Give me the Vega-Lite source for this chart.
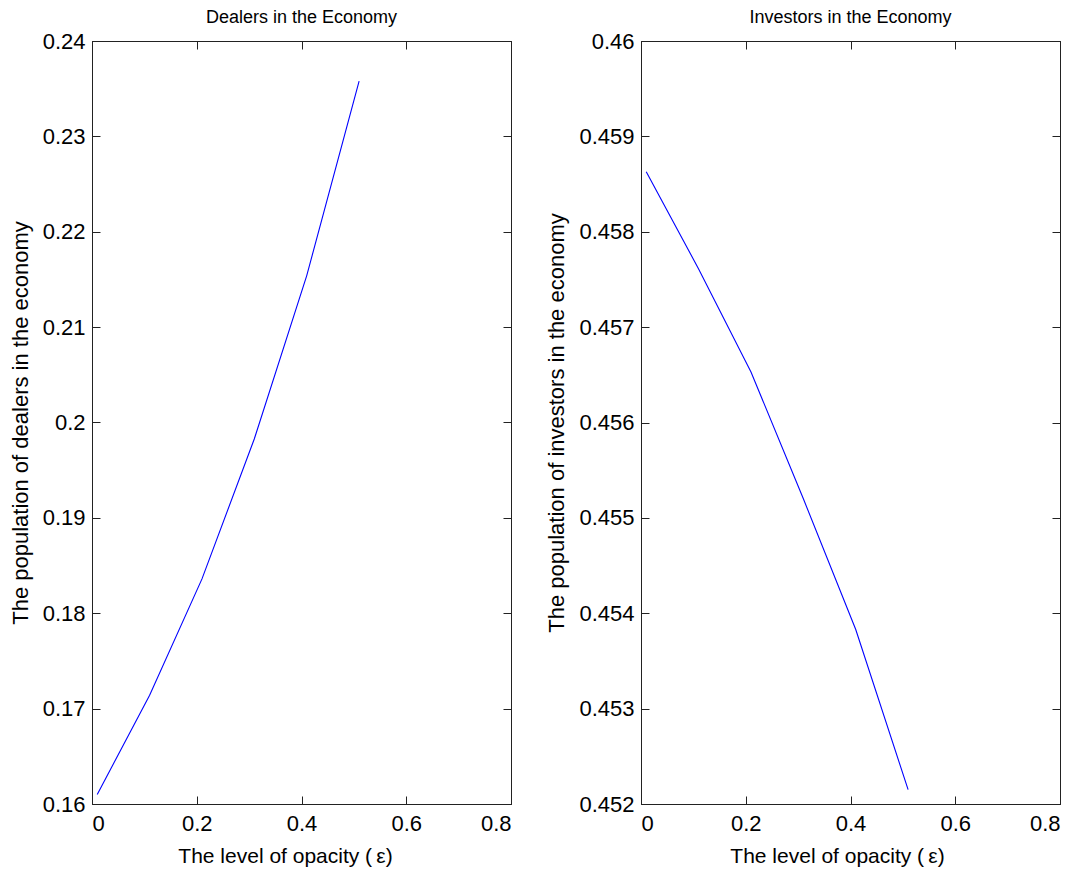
{
  "$schema": "https://vega.github.io/schema/vega-lite/v6.json",
  "padding": {"left": 8, "top": 8, "right": 0, "bottom": 0},
  "background": "white",
  "spacing": 33,
  "datasets": {
    "dealers": [
      {"opacity": 0.01, "population": 0.1610},
      {"opacity": 0.11, "population": 0.1714},
      {"opacity": 0.21, "population": 0.1836},
      {"opacity": 0.31, "population": 0.1983},
      {"opacity": 0.41, "population": 0.2154},
      {"opacity": 0.51, "population": 0.2358}
    ],
    "investors": [
      {"opacity": 0.01, "population": 0.45863},
      {"opacity": 0.11, "population": 0.45761},
      {"opacity": 0.21, "population": 0.45653},
      {"opacity": 0.31, "population": 0.45520},
      {"opacity": 0.41, "population": 0.45383},
      {"opacity": 0.51, "population": 0.45215}
    ]
  },
  "hconcat": [
    {
      "title": {"text": "Dealers in the Economy"},
      "width": 419,
      "height": 763,
      "data": {"name": "dealers"},
      "layer": [
        {
          "mark": {"type": "line", "color": "#0000ff", "strokeWidth": 1.1},
          "encoding": {
            "x": {"field": "opacity", "type": "quantitative", "scale": {"domain": [0, 0.8], "nice": false, "zero": false},
                  "axis": {"orient": "bottom", "values": [0, 0.2, 0.4, 0.6, 0.8], "format": "~g", "labelPadding": 17, "titlePadding": 11, "titleFontSize": 21, "titleX": 193, "title": "The level of opacity (\u2009ε)"}},
            "y": {"field": "population", "type": "quantitative", "scale": {"domain": [0.16, 0.24], "nice": false, "zero": false},
                  "axis": {"orient": "left", "values": [0.16, 0.17, 0.18, 0.19, 0.2, 0.21, 0.22, 0.23, 0.24], "format": "~g", "labelPadding": 15, "titlePadding": 10, "title": "The population of dealers in the economy"}}
          }
        },
        {
          "mark": {"type": "line", "strokeOpacity": 0},
          "encoding": {
            "x": {"field": "opacity", "type": "quantitative",
                  "axis": {"orient": "top", "values": [0, 0.2, 0.4, 0.6, 0.8], "labels": false, "title": null}},
            "y": {"field": "population", "type": "quantitative",
                  "axis": {"orient": "right", "values": [0.16, 0.17, 0.18, 0.19, 0.2, 0.21, 0.22, 0.23, 0.24], "labels": false, "title": null}}
          }
        }
      ],
      "resolve": {"axis": {"x": "independent", "y": "independent"}}
    },
    {
      "title": {"text": "Investors in the Economy"},
      "width": 419,
      "height": 763,
      "data": {"name": "investors"},
      "layer": [
        {
          "mark": {"type": "line", "color": "#0000ff", "strokeWidth": 1.1},
          "encoding": {
            "x": {"field": "opacity", "type": "quantitative", "scale": {"domain": [0, 0.8], "nice": false, "zero": false},
                  "axis": {"orient": "bottom", "values": [0, 0.2, 0.4, 0.6, 0.8], "format": "~g", "labelPadding": 17, "titlePadding": 11, "titleFontSize": 21, "titleX": 196, "title": "The level of opacity (\u2009ε)"}},
            "y": {"field": "population", "type": "quantitative", "scale": {"domain": [0.452, 0.46], "nice": false, "zero": false},
                  "axis": {"orient": "left", "values": [0.452, 0.453, 0.454, 0.455, 0.456, 0.457, 0.458, 0.459, 0.46], "format": "~g", "labelPadding": 15, "titlePadding": 10, "title": "The population of investors in the economy"}}
          }
        },
        {
          "mark": {"type": "line", "strokeOpacity": 0},
          "encoding": {
            "x": {"field": "opacity", "type": "quantitative",
                  "axis": {"orient": "top", "values": [0, 0.2, 0.4, 0.6, 0.8], "labels": false, "title": null}},
            "y": {"field": "population", "type": "quantitative",
                  "axis": {"orient": "right", "values": [0.452, 0.453, 0.454, 0.455, 0.456, 0.457, 0.458, 0.459, 0.46], "labels": false, "title": null}}
          }
        }
      ],
      "resolve": {"axis": {"x": "independent", "y": "independent"}}
    }
  ],
  "config": {
    "font": "Liberation Sans",
    "view": {"stroke": "#222222", "strokeWidth": 1},
    "axis": {
      "domainColor": "#222222",
      "tickColor": "#222222",
      "labelColor": "black",
      "titleColor": "black",
      "grid": false,
      "tickSize": -8,
      "labelFontSize": 22,
      "titleFontSize": 22,
      "titleFontWeight": "normal",
      "labelFont": "Liberation Sans",
      "titleFont": "Liberation Sans"
    },
    "title": {"fontSize": 18, "fontWeight": "normal", "color": "black", "font": "Liberation Sans", "offset": 3}
  }
}
